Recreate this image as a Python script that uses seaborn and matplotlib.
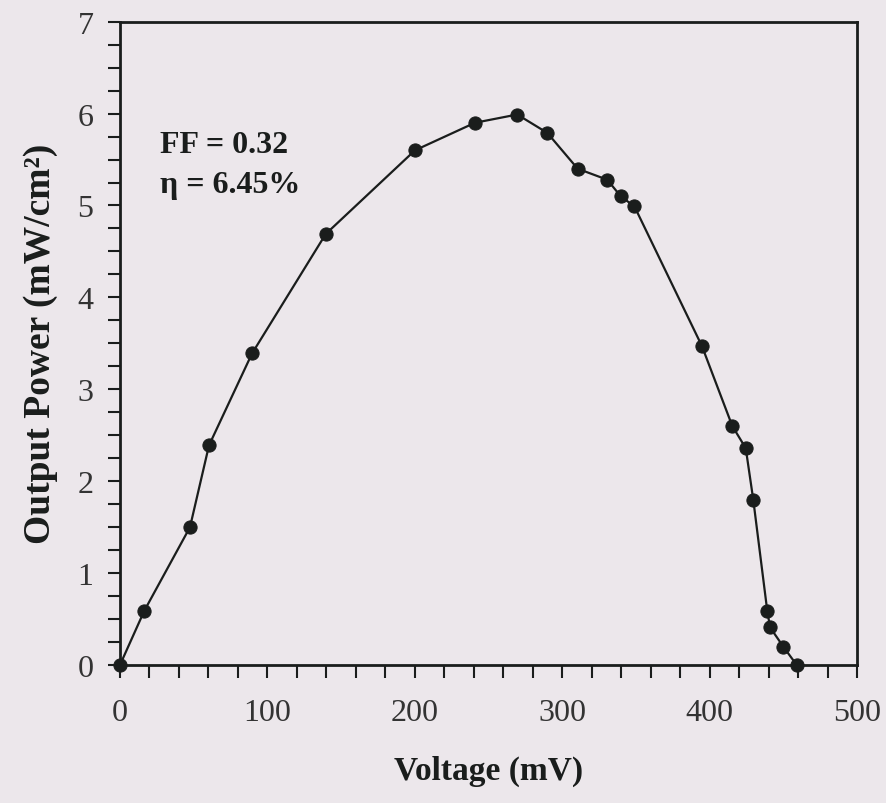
import matplotlib
matplotlib.use("Agg")
import matplotlib.pyplot as plt
import seaborn as sns
import pandas as pd
from matplotlib.ticker import MultipleLocator

voltage_mV = [0, 16.5, 47.5, 60.4, 89.6, 139.6, 200.1, 240.8, 269.5, 289.9, 310.5,
              330.6, 339.7, 349.0, 394.8, 415.4, 424.5, 429.6, 439.1, 441.0, 450.0, 459.1]
power_mW_cm2 = [0, 0.59, 1.50, 2.39, 3.39, 4.69, 5.60, 5.90, 5.99, 5.79, 5.40,
                5.28, 5.10, 4.99, 3.47, 2.60, 2.36, 1.80, 0.59, 0.41, 0.20, 0.0]
x_ticks = [0, 100, 200, 300, 400, 500]
y_ticks = [0, 1, 2, 3, 4, 5, 6, 7]
annotation_lines = ["FF = 0.32", "η = 6.45%"]

df = pd.DataFrame({"Voltage": voltage_mV, "Power": power_mW_cm2})

sns.set_theme(style="ticks")
plt.rcParams["font.family"] = ["Liberation Serif", "DejaVu Serif"]
bg = "#ECE7EB"
ink = "#1a1d1c"

fig = plt.figure(figsize=(8.86, 8.04), dpi=100, facecolor=bg)
ax = fig.add_axes([0.1354, 0.1716, 0.8319, 0.8002])
ax.set_facecolor(bg)

sns.lineplot(data=df, x="Voltage", y="Power", ax=ax, color=ink, linewidth=1.6,
             marker="o", markersize=9.5, markeredgecolor=ink, markerfacecolor=ink,
             sort=False, clip_on=False)

ax.set_xlim(0, 500)
ax.set_ylim(0, 7)
ax.set_xticks(x_ticks)
ax.set_yticks(y_ticks)
ax.xaxis.set_minor_locator(MultipleLocator(20))
ax.yaxis.set_minor_locator(MultipleLocator(0.25))
ax.tick_params(axis="both", which="both", direction="out", color=ink, width=1.5,
               labelsize=23, labelcolor="#333333")
ax.tick_params(axis="both", which="major", length=9)
ax.tick_params(axis="both", which="minor", length=9)
ax.tick_params(axis="x", pad=15)
ax.tick_params(axis="y", pad=10)
for s in ax.spines.values():
    s.set_color(ink)
    s.set_linewidth(2)

ax.set_xlabel("Voltage (mV)", fontsize=24, fontweight="bold", color=ink, labelpad=20)
ax.set_ylabel("Output Power (mW/cm²)", fontsize=27, fontweight="bold", color=ink, labelpad=14)

ax.text(27, 5.58, annotation_lines[0], fontsize=23, fontweight="bold", color=ink)
ax.text(27, 5.15, annotation_lines[1], fontsize=23, fontweight="bold", color=ink)

fig.savefig("out.png", dpi=100, facecolor=bg)
